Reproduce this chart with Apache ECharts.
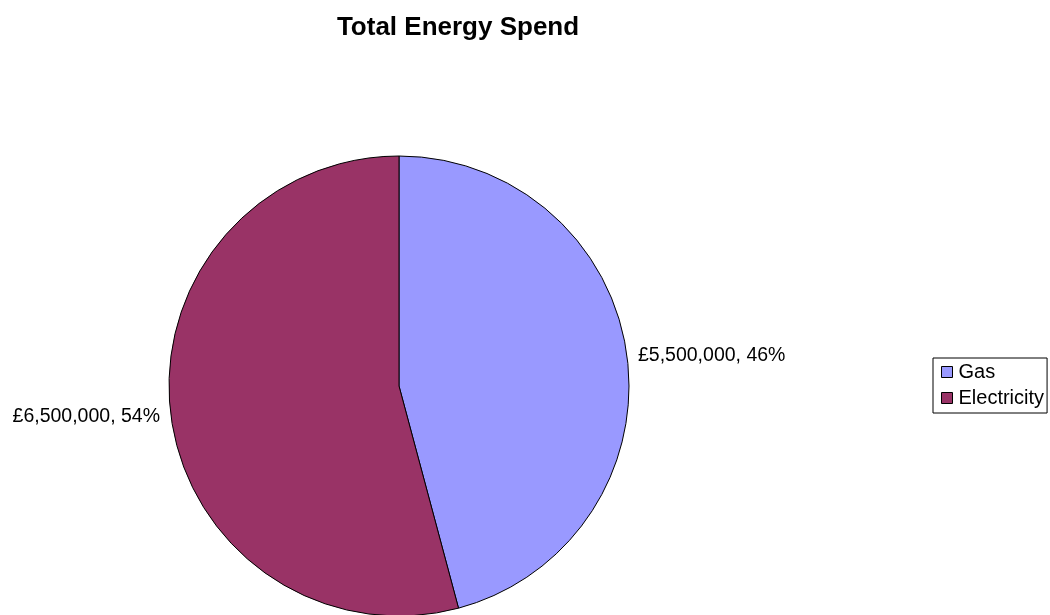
<!DOCTYPE html>
<html>
<head>
<meta charset="utf-8">
<script src="https://cdn.jsdelivr.net/npm/echarts@6/dist/echarts.min.js"></script>
<style>
  html, body { margin: 0; padding: 0; background: #fff; }
  #chart { width: 1050px; height: 615px; }
</style>
</head>
<body>
<div id="chart"></div>
<script>
var categories = ['Gas', 'Electricity'];
var spend = [5500000, 6500000];
var colors = ['#9999FF', '#993366'];

var pieData = [];
for (var i = 0; i < categories.length; i++) {
    pieData.push({ name: categories[i], value: spend[i], itemStyle: { color: colors[i] } });
}

function fmtMoney(v) {
    return '£' + v.toString().replace(/\B(?=(\d{3})+(?!\d))/g, ',');
}

var option = {
    animation: false,
    textStyle: { fontFamily: 'Liberation Sans, Arial, sans-serif' },
    title: {
        text: 'Total Energy Spend',
        left: 453,
        top: 10,
        textAlign: 'center',
        textStyle: { fontSize: 26, fontWeight: 'bold', color: '#000', fontFamily: 'Liberation Sans, Arial, sans-serif' }
    },
    legend: {
        orient: 'vertical',
        left: 933,
        top: 358,
        padding: [4, 3, 5, 8],
        itemGap: 6,
        itemWidth: 11,
        itemHeight: 11,
        icon: 'rect',
        borderColor: '#000',
        borderWidth: 1,
        borderRadius: 0,
        data: categories,
        itemStyle: { borderColor: '#000', borderWidth: 1 },
        textStyle: { fontSize: 20, color: '#000', padding: [0, 0, 0, 1] }
    },
    series: [
        {
            type: 'pie',
            center: [399, 386],
            radius: 230,
            startAngle: 90,
            clockwise: true,
            silent: true,
            itemStyle: { borderColor: '#000', borderWidth: 1 },
            label: {
                show: true,
                position: 'outside',
                overflow: 'none',
                fontSize: 19.5,
                color: '#000',
                formatter: function (p) {
                    return fmtMoney(p.value) + ', ' + Math.round(p.percent) + '%';
                }
            },
            labelLine: { show: false, length: 6, length2: 0 },
            data: pieData
        }
    ]
};

var myChart = echarts.init(document.getElementById('chart'));
myChart.setOption(option);
</script>
</body>
</html>
